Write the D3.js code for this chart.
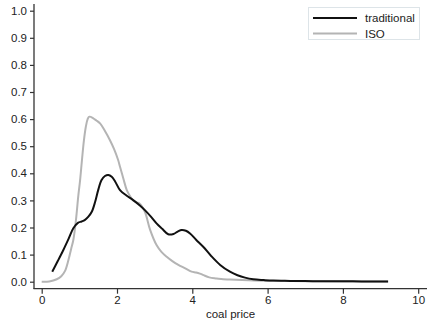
<!DOCTYPE html>
<html><head><meta charset="utf-8">
<script src="https://cdn.jsdelivr.net/npm/d3@7"></script>
<style>body{margin:0;background:#fff;}svg{display:block;font-family:"Liberation Sans",Arial,sans-serif;}</style>
</head><body>
<script>
const seriesNames = ["traditional", "ISO"];
const traditionalX = [0.28,0.43,0.575,0.71,0.84,0.97,1.06,1.15,1.24,1.33,1.42,1.5,1.59,1.68,1.77,1.86,1.95,2.08,2.25,2.43,2.6,2.74,2.9,3.05,3.2,3.36,3.5,3.62,3.72,3.83,3.94,4.1,4.29,4.5,4.74,5.0,5.2,5.4,5.62,5.9,6.15,6.6,7.2,7.8,8.5,9.2];
const traditionalY = [0.037,0.077,0.117,0.157,0.197,0.218,0.222,0.228,0.24,0.258,0.295,0.338,0.375,0.39,0.394,0.387,0.37,0.338,0.318,0.301,0.282,0.264,0.24,0.215,0.195,0.175,0.176,0.186,0.191,0.188,0.178,0.155,0.129,0.095,0.062,0.037,0.024,0.015,0.009,0.006,0.004,0.003,0.002,0.002,0.001,0.001];
const isoX = [0,0.2,0.4,0.52,0.62,0.71,0.78,0.84,0.91,0.97,1.02,1.07,1.12,1.17,1.22,1.265,1.37,1.45,1.55,1.68,1.81,1.92,2.03,2.08,2.17,2.26,2.35,2.43,2.52,2.61,2.74,2.88,3.05,3.18,3.32,3.47,3.63,3.8,3.98,4.1,4.2,4.3,4.45,4.65,4.82,5.0,5.5,6.0,7.0,8.0,9.2];
const isoY = [0,0.001,0.009,0.02,0.04,0.08,0.12,0.154,0.228,0.314,0.375,0.45,0.52,0.57,0.6,0.609,0.603,0.595,0.584,0.556,0.523,0.49,0.449,0.424,0.38,0.338,0.315,0.30,0.293,0.287,0.258,0.191,0.135,0.11,0.092,0.076,0.062,0.05,0.037,0.034,0.03,0.024,0.016,0.012,0.009,0.008,0.005,0.003,0.002,0.001,0.001];
const xTicks = [0,2,4,6,8,10];
const yTicks = [0,0.1,0.2,0.3,0.4,0.5,0.6,0.7,0.8,0.9,1.0];
const xLabel = "coal price";
const colors = ["#111111", "#b4b4b4"];

const W = 427, H = 326;
const svg = d3.select("body").append("svg").attr("width", W).attr("height", H);
const x = d3.scaleLinear().domain([0, 10]).range([41.7, 418.2]);
const y = d3.scaleLinear().domain([0, 1]).range([281.7, 10.7]);
const fs = "11.5px";

// axes lines
svg.append("line").attr("x1", 34).attr("x2", 34).attr("y1", 4).attr("y2", 289).attr("stroke", "#333").attr("stroke-width", 1.3);
svg.append("line").attr("x1", 33.5).attr("x2", 427).attr("y1", 288.7).attr("y2", 288.7).attr("stroke", "#333").attr("stroke-width", 1.3);

const yAxis = d3.axisLeft(y).tickValues(yTicks).tickFormat(d3.format(".1f")).tickSize(4).tickPadding(3);
const gy = svg.append("g").attr("transform", "translate(34,0)").call(yAxis);
gy.select(".domain").remove();
gy.selectAll("line").attr("stroke", "#333").attr("stroke-width", 1.2);
gy.selectAll("text").attr("font-size", fs).attr("fill", "#222").attr("font-family", "Liberation Sans, Arial, sans-serif");

const xAxis = d3.axisBottom(x).tickValues(xTicks).tickFormat(d3.format("d")).tickSize(5).tickPadding(2.5);
const gx = svg.append("g").attr("transform", "translate(0,288.7)").call(xAxis);
gx.select(".domain").remove();
gx.selectAll("line").attr("stroke", "#333").attr("stroke-width", 1.2);
gx.selectAll("text").attr("font-size", fs).attr("fill", "#222").attr("font-family", "Liberation Sans, Arial, sans-serif");

svg.append("text").attr("x", 230.5).attr("y", 318).attr("text-anchor", "middle")
  .attr("font-size", "11.5px").attr("fill", "#222").text(xLabel);

const line = d3.line().x(d => x(d[0])).y(d => y(d[1])).curve(d3.curveCatmullRom.alpha(0.5));
const sets = [traditionalX.map((v, i) => [v, traditionalY[i]]), isoX.map((v, i) => [v, isoY[i]])];
svg.append("path").datum(sets[1]).attr("d", line).attr("fill", "none").attr("stroke", colors[1]).attr("stroke-width", 2);
svg.append("path").datum(sets[0]).attr("d", line).attr("fill", "none").attr("stroke", colors[0]).attr("stroke-width", 2);

// legend
const lg = svg.append("g");
lg.append("rect").attr("x", 308.5).attr("y", 7.5).attr("width", 111).attr("height", 32).attr("fill", "#fff").attr("stroke", "#dde4e8").attr("stroke-width", 1);
seriesNames.forEach((n, i) => {
  const yy = 18 + i * 15.5;
  lg.append("line").attr("x1", 313).attr("x2", 357).attr("y1", yy).attr("y2", yy).attr("stroke", colors[i]).attr("stroke-width", 2);
  lg.append("text").attr("x", 365).attr("y", yy + 4).attr("font-size", fs).attr("fill", "#222").text(n);
});
</script>
</body></html>
